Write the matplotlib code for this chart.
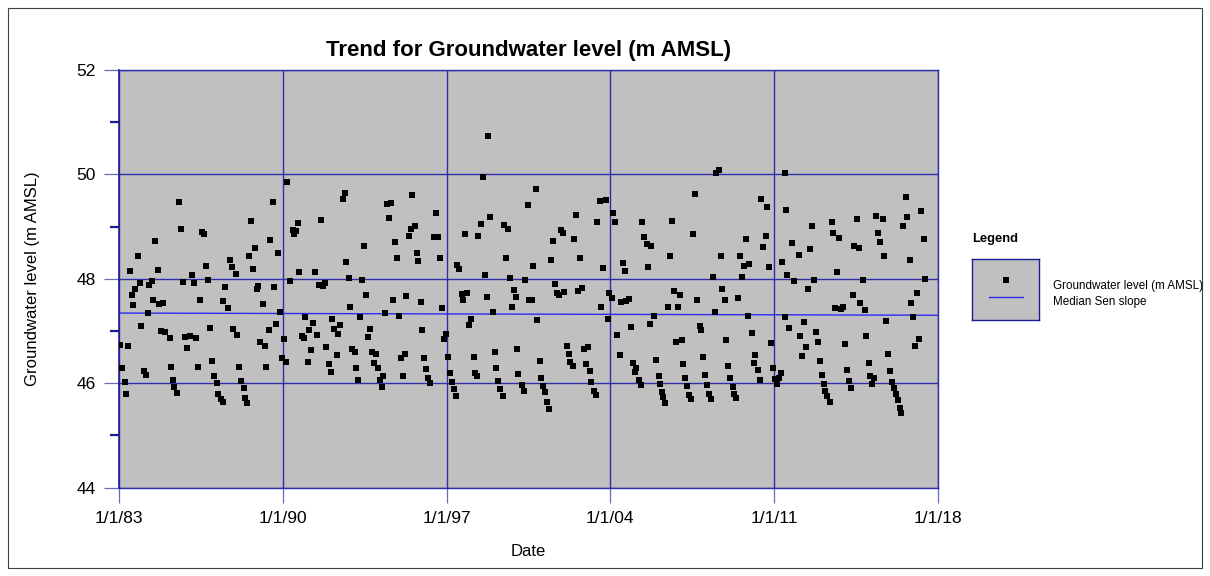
import datetime as dt

import numpy as np
import matplotlib
matplotlib.use('Agg')
import matplotlib.pyplot as plt
import matplotlib.dates as mdates
from matplotlib.patches import Rectangle
from matplotlib.ticker import FixedLocator, FuncFormatter

# -----------------------------------------------------------------------------
# groundwater level observations (decimal year, m AMSL), read off the chart

obs_year = [
    1983.06, 1983.13, 1983.24, 1983.30, 1983.38, 1983.48, 1983.55, 1983.62, 1983.70, 1983.81, 1983.88, 1983.95,
    1984.05, 1984.15, 1984.22, 1984.29, 1984.39, 1984.46, 1984.54, 1984.65, 1984.72, 1984.79, 1984.90, 1984.98,
    1985.16, 1985.22, 1985.29, 1985.37, 1985.49, 1985.56, 1985.63, 1985.73, 1985.80, 1985.92,
    1986.04, 1986.13, 1986.21, 1986.31, 1986.38, 1986.46, 1986.54, 1986.63, 1986.71, 1986.82, 1986.88, 1986.97,
    1987.08, 1987.17, 1987.25, 1987.37, 1987.43, 1987.46, 1987.55, 1987.66, 1987.76, 1987.85, 1987.89, 1987.98,
    1988.05, 1988.13, 1988.21, 1988.34, 1988.38, 1988.45, 1988.57, 1988.65, 1988.72, 1988.82, 1988.89, 1988.96,
    1989.03, 1989.15, 1989.24, 1989.29, 1989.39, 1989.47, 1989.56, 1989.63, 1989.73, 1989.80, 1989.87, 1989.98,
    1990.06, 1990.13, 1990.20, 1990.31, 1990.42, 1990.47, 1990.55, 1990.64, 1990.71, 1990.81, 1990.90, 1990.96,
    1991.07, 1991.13, 1991.21, 1991.30, 1991.39, 1991.48, 1991.55, 1991.62, 1991.71, 1991.81, 1991.86, 1991.99,
    1992.06, 1992.12, 1992.20, 1992.30, 1992.37, 1992.46, 1992.57, 1992.64, 1992.70, 1992.82, 1992.89, 1992.94,
    1993.07, 1993.14, 1993.21, 1993.30, 1993.40, 1993.47, 1993.54, 1993.64, 1993.73, 1993.81, 1993.90, 1993.98,
    1994.05, 1994.15, 1994.22, 1994.29, 1994.37, 1994.46, 1994.55, 1994.63, 1994.69, 1994.81, 1994.88, 1994.96,
    1995.05, 1995.13, 1995.21, 1995.28, 1995.38, 1995.46, 1995.53, 1995.63, 1995.72, 1995.79, 1995.89, 1995.96,
    1996.04, 1996.12, 1996.21, 1996.30, 1996.46, 1996.54, 1996.63, 1996.73, 1996.80, 1996.87, 1996.96,
    1997.05, 1997.13, 1997.21, 1997.31, 1997.40, 1997.44, 1997.52, 1997.64, 1997.71, 1997.78, 1997.88, 1997.95,
    1998.04, 1998.15, 1998.21, 1998.29, 1998.36, 1998.48, 1998.55, 1998.62, 1998.72, 1998.79, 1998.86, 1998.99,
    1999.05, 1999.12, 1999.19, 1999.29, 1999.39, 1999.45, 1999.52, 1999.63, 1999.71, 1999.79, 1999.88, 1999.96,
    1999.99, 2000.07, 2000.21, 2000.29, 2000.35, 2000.47, 2000.52, 2000.63, 2000.71, 2000.80, 2000.87, 2000.98,
    2001.04, 2001.12, 2001.19, 2001.29, 2001.38, 2001.44, 2001.55, 2001.62, 2001.71, 2001.82, 2001.89, 2001.98,
    2002.02, 2002.13, 2002.21, 2002.29, 2002.39, 2002.46, 2002.53, 2002.62, 2002.72, 2002.79, 2002.86, 2002.97,
    2003.04, 2003.11, 2003.19, 2003.29, 2003.37, 2003.44, 2003.56, 2003.61, 2003.68, 2003.80, 2003.88, 2003.94,
    2004.07, 2004.13, 2004.20, 2004.28, 2004.40, 2004.45, 2004.52, 2004.64, 2004.67, 2004.79, 2004.90, 2004.96,
    2005.04, 2005.11, 2005.21, 2005.29, 2005.36, 2005.43, 2005.55, 2005.62, 2005.69, 2005.75, 2005.85, 2005.96,
    2006.06, 2006.12, 2006.19, 2006.24, 2006.32, 2006.46, 2006.55, 2006.63, 2006.71, 2006.80, 2006.90, 2006.97,
    2007.04, 2007.11, 2007.21, 2007.28, 2007.35, 2007.45, 2007.54, 2007.61, 2007.70, 2007.81, 2007.87, 2007.97,
    2008.06, 2008.12, 2008.21, 2008.28, 2008.38, 2008.45, 2008.52, 2008.62, 2008.73, 2008.78, 2008.89, 2008.96,
    2009.03, 2009.13, 2009.22, 2009.27, 2009.35, 2009.46, 2009.53, 2009.62, 2009.73, 2009.79, 2009.87, 2009.93,
    2010.04, 2010.13, 2010.19, 2010.30, 2010.38, 2010.44, 2010.51, 2010.63, 2010.70, 2010.77, 2010.88, 2010.96,
    2011.03, 2011.13, 2011.19, 2011.28, 2011.35, 2011.45, 2011.46, 2011.51, 2011.55, 2011.64, 2011.78, 2011.86,
    2012.04, 2012.11, 2012.19, 2012.26, 2012.36, 2012.43, 2012.55, 2012.62, 2012.69, 2012.79, 2012.89, 2012.95,
    2013.03, 2013.12, 2013.19, 2013.27, 2013.37, 2013.46, 2013.50, 2013.58, 2013.70, 2013.77, 2013.85, 2013.95,
    2014.04, 2014.11, 2014.18, 2014.28, 2014.37, 2014.43, 2014.54, 2014.61, 2014.68, 2014.80, 2014.87, 2014.94,
    2015.04, 2015.11, 2015.18, 2015.28, 2015.36, 2015.45, 2015.52, 2015.63, 2015.71, 2015.78, 2015.85, 2015.95,
    2016.05, 2016.12, 2016.20, 2016.29, 2016.36, 2016.43, 2016.52, 2016.62, 2016.67, 2016.79, 2016.86, 2016.93,
    2017.03, 2017.11, 2017.19, 2017.26, 2017.39, 2017.43,
]

obs_level = [
    46.73, 46.30, 46.02, 45.79, 46.71, 48.15, 47.70, 47.49, 47.81, 48.44, 47.92, 47.10,
    46.24, 46.16, 47.35, 47.88, 47.95, 47.60, 48.73, 48.16, 47.51, 47.01, 47.54, 46.98,
    46.87, 46.31, 46.07, 45.92, 45.81, 49.47, 48.95, 47.94, 46.89, 46.68,
    46.90, 48.08, 47.92, 46.87, 46.32, 47.59, 48.89, 48.86, 48.24, 47.97, 47.05, 46.43,
    46.13, 46.00, 45.79, 45.70, 45.65, 47.57, 47.85, 47.44, 48.36, 48.22, 47.03, 48.10,
    46.92, 46.31, 46.04, 45.91, 45.72, 45.62, 48.44, 49.11, 48.19, 48.60, 47.81, 47.87,
    46.79, 47.51, 46.72, 46.31, 47.02, 48.75, 49.47, 47.85, 47.14, 48.50, 47.37, 46.49,
    46.84, 46.41, 49.85, 47.96, 48.93, 48.86, 48.91, 49.07, 48.13, 46.91, 46.87, 47.26,
    46.41, 47.02, 46.63, 47.16, 48.13, 46.93, 47.88, 49.12, 47.86, 47.92, 46.70, 46.36,
    46.21, 47.24, 47.03, 46.54, 46.95, 47.11, 49.53, 49.65, 48.33, 48.01, 47.46, 46.65,
    46.59, 46.29, 46.06, 47.27, 47.98, 48.63, 47.69, 46.88, 47.03, 46.59, 46.39, 46.57,
    46.29, 46.06, 45.93, 46.13, 47.35, 49.44, 49.16, 49.46, 47.60, 48.70, 48.39, 47.29,
    46.48, 46.13, 46.57, 47.67, 48.83, 48.95, 49.60, 49.01, 48.50, 48.34, 47.56, 47.02,
    46.48, 46.27, 46.11, 46.01, 48.80, 49.26, 48.80, 48.40, 47.44, 46.84, 46.94,
    46.50, 46.20, 46.02, 45.89, 45.75, 48.27, 48.18, 47.71, 47.60, 48.86, 47.72, 47.12,
    47.23, 46.50, 46.19, 46.13, 48.82, 49.06, 49.96, 48.08, 47.65, 50.73, 49.18, 47.36,
    46.59, 46.29, 46.04, 45.89, 45.76, 49.03, 48.39, 48.96, 48.02, 47.46, 47.78, 47.65,
    46.66, 46.18, 45.97, 45.85, 47.97, 49.41, 47.60, 47.59, 48.25, 49.73, 47.21, 46.43,
    46.11, 45.94, 45.83, 45.65, 45.50, 48.36, 48.73, 47.90, 47.72, 47.70, 48.94, 48.87,
    47.74, 46.71, 46.57, 46.41, 46.34, 48.77, 49.23, 47.77, 48.39, 47.82, 46.66, 46.37,
    46.70, 46.24, 46.02, 45.86, 45.78, 49.09, 49.49, 47.46, 48.21, 49.51, 47.23, 47.73,
    47.64, 49.27, 49.08, 46.93, 46.54, 47.55, 48.31, 48.15, 47.57, 47.62, 47.08, 46.38,
    46.21, 46.30, 46.07, 45.97, 49.08, 48.80, 48.67, 48.23, 47.14, 48.63, 47.28, 46.45,
    46.13, 45.99, 45.84, 45.73, 45.63, 47.46, 48.43, 49.11, 47.77, 46.80, 47.46, 47.70,
    46.82, 46.36, 46.11, 45.94, 45.78, 45.70, 48.86, 49.62, 47.60, 47.09, 47.02, 46.51,
    46.16, 45.97, 45.79, 45.70, 48.04, 47.36, 50.03, 50.09, 48.43, 47.80, 47.60, 46.82,
    46.34, 46.10, 45.93, 45.79, 45.72, 47.64, 48.44, 48.03, 48.25, 48.77, 47.29, 48.29,
    46.96, 46.39, 46.54, 46.25, 46.06, 49.53, 48.61, 48.83, 49.37, 48.23, 46.78, 46.30,
    46.09, 45.99, 46.11, 46.20, 48.33, 50.03, 47.26, 49.31, 48.08, 47.05, 48.68, 47.95,
    48.46, 46.90, 46.53, 47.17, 46.70, 47.81, 48.57, 49.01, 47.98, 46.98, 46.80, 46.43,
    46.16, 45.99, 45.86, 45.75, 45.64, 49.09, 48.88, 47.44, 48.14, 48.79, 47.42, 47.46,
    46.75, 46.26, 46.05, 45.91, 47.70, 48.62, 49.14, 48.59, 47.53, 47.98, 47.41, 46.90,
    46.38, 46.13, 45.99, 46.10, 49.21, 48.88, 48.70, 49.14, 48.43, 47.20, 46.56, 46.23,
    46.03, 45.91, 45.79, 45.68, 45.53, 45.44, 49.01, 49.56, 49.19, 48.36, 47.54, 47.27,
    46.71, 47.72, 46.84, 49.29, 48.77, 47.99,
]

# median Sen slope trend line, end points
sen_year = [1983.0, 2018.0]
sen_level = [47.345, 47.303]

tick_years = [1983, 1990, 1997, 2004, 2011, 2018]

# -----------------------------------------------------------------------------

def to_date(y):
    year = int(np.floor(y))
    start = dt.datetime(year, 1, 1)
    end = dt.datetime(year + 1, 1, 1)
    return start + (end - start) * (y - year)


obs_dates = [to_date(y) for y in obs_year]
sen_dates = [to_date(y) for y in sen_year]

# -----------------------------------------------------------------------------

plt.rcParams['font.family'] = ['Liberation Sans', 'DejaVu Sans']

navy = '#1c1c96'
grid_col = '#2e2eaa'

fig = plt.figure(figsize=(12.10, 5.76), dpi=100)
ax = fig.add_axes([119 / 1210, 1 - 487.7 / 576, 819 / 1210, 417.7 / 576])
ax.set_facecolor('#c0c0c0')

ax.plot(obs_dates, obs_level, 's', color='black', markersize=4.4,
        markeredgewidth=0, zorder=3)
ax.plot(sen_dates, sen_level, '-', color='#2b2bf0', linewidth=1.0, zorder=2)

ax.set_xlim(to_date(1983.0), to_date(2018.0))
ax.set_ylim(44, 52)

xt = [mdates.date2num(dt.datetime(y, 1, 1)) for y in tick_years]
ax.xaxis.set_major_locator(FixedLocator(xt))


def date_label(x, pos):
    d = mdates.num2date(x)
    return '%d/%d/%02d' % (d.month, d.day, d.year % 100)


ax.xaxis.set_major_formatter(FuncFormatter(date_label))
ax.yaxis.set_major_locator(FixedLocator([44, 46, 48, 50, 52]))
ax.yaxis.set_minor_locator(FixedLocator([45, 47, 49, 51]))

ax.grid(True, which='major', color=grid_col, linewidth=1.0)
ax.set_axisbelow(True)

ax.tick_params(axis='both', which='major', labelsize=12.5, color='#6a6ac4',
               length=10.5, width=0.9)
ax.tick_params(axis='y', which='major', pad=6)
ax.tick_params(axis='x', which='major', pad=6)
ax.tick_params(axis='y', which='minor', color=navy, length=6.5, width=1.6)

for s in ax.spines.values():
    s.set_color(grid_col)
    s.set_linewidth(1.0)
ax.spines['left'].set_color(navy)
ax.spines['left'].set_linewidth(1.2)

ax.set_title('Trend for Groundwater level (m AMSL)', fontsize=16,
             fontweight='bold', pad=10)
ax.set_ylabel('Groundwater level (m AMSL)', fontsize=12)
ax.yaxis.set_label_coords(-0.0965, 0.5)
ax.set_xlabel('Date', fontsize=12, va='center')
ax.xaxis.set_label_coords(0.5, -0.152)

# -----------------------------------------------------------------------------
# legend drawn by hand: box with symbols, labels to its right

fig.text(972 / 1210, 1 - 239 / 576, 'Legend', fontsize=9.3,
         fontweight='bold', va='center', ha='left')

lax = fig.add_axes([972 / 1210, 1 - 320 / 576, 67 / 1210, 61 / 576])
lax.set_facecolor('#c0c0c0')
lax.set_xlim(0, 1)
lax.set_ylim(0, 1)
lax.set_xticks([])
lax.set_yticks([])
for s in lax.spines.values():
    s.set_color(navy)
    s.set_linewidth(1.0)
lax.plot([0.5], [0.66], 's', color='black', markersize=4.4, markeredgewidth=0)
lax.plot([0.25, 0.76], [0.38, 0.38], '-', color='#2b2bf0', linewidth=1.0)

fig.text(1053 / 1210, 1 - 286 / 576, 'Groundwater level (m AMSL)',
         fontsize=8.4, va='center', ha='left')
fig.text(1053 / 1210, 1 - 302 / 576, 'Median Sen slope',
         fontsize=8.4, va='center', ha='left')

# outer frame of the whole chart
fig.patches.append(Rectangle((8 / 1210, 8 / 576), 1194 / 1210, 560 / 576,
                             transform=fig.transFigure, fill=False,
                             edgecolor='#404040', linewidth=0.8))

fig.savefig('out.png', dpi=100)
